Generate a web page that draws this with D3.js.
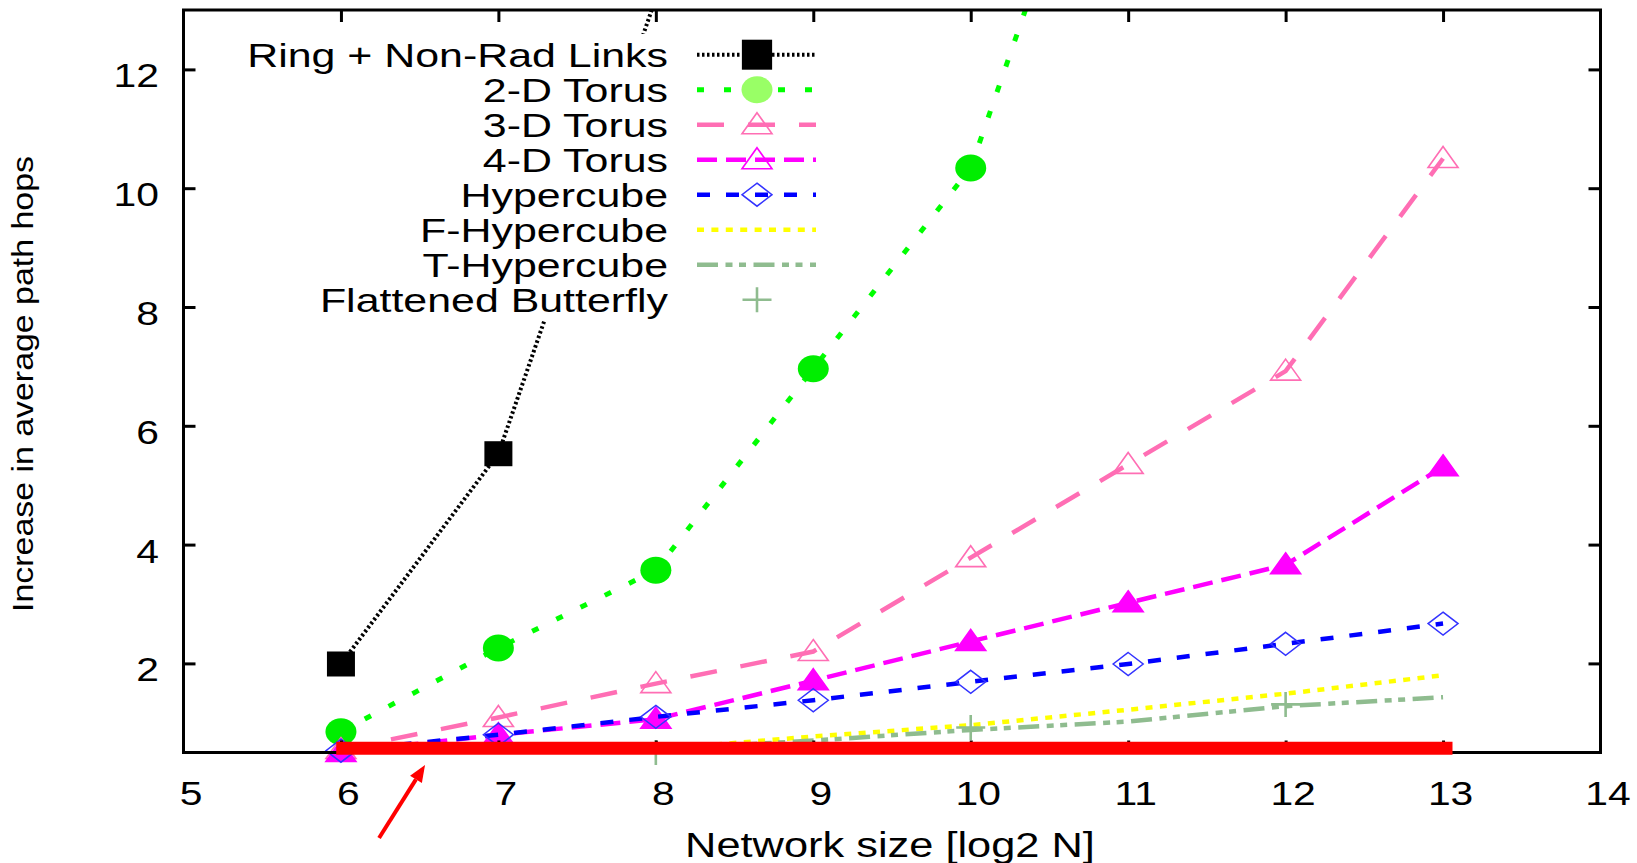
<!DOCTYPE html>
<html>
<head>
<meta charset="utf-8">
<script src="https://cdn.jsdelivr.net/npm/d3@7"></script>
<style>
  html, body { margin: 0; padding: 0; background: #fff; }
  svg { display: block; font-family: "Liberation Sans", Arial, Helvetica, sans-serif; }
</style>
</head>
<body>
<svg id="chart" width="1637" height="863"></svg>
<script>
// Network size (log2 N) at which each topology was measured
const networkSizes = [6, 7, 8, 9, 10, 11, 12, 13];
const ringSizes = [6, 7, 8];
const torus2dSizes = [6, 7, 8, 9, 10, 11];
const butterflySizes = [8, 10, 12];

// Increase in average path hops per topology
const ringHops = [1.99, 5.53, 13.2];
const torus2dHops = [0.85, 2.26, 3.57, 6.96, 10.34, 18.0];
const torus3dHops = [0.55, 1.09, 1.66, 2.2, 3.78, 5.35, 6.92, 10.5];
const torus4dHops = [0.5, 0.8, 1.06, 1.71, 2.37, 3.02, 3.66, 5.31];
const hypercubeHops = [0.53, 0.8, 1.1, 1.38, 1.69, 1.99, 2.33, 2.67];
const fHypercubeHops = [0.5, 0.5, 0.55, 0.77, 0.96, 1.22, 1.49, 1.8];
const tHypercubeHops = [0.5, 0.5, 0.55, 0.7, 0.88, 1.02, 1.28, 1.43];
const butterflyHops = [0.5, 0.92, 1.31];

// Axis ticks
const xTicks = [5, 6, 7, 8, 9, 10, 11, 12, 13, 14];
const yTicks = [2, 4, 6, 8, 10, 12];

// Highlighted baseline and the arrow pointing at it (data units)
const baselineSpan = [5.97, 13.06];
const baselineLevel = 0.57;
const arrowTail = [6.242, -0.94];
const arrowTip = [6.534, 0.29];

const xTitle = "Network size [log2 N]";
const yTitle = "Increase in average path hops";

const pair = (xs, ys) => xs.map((n, i) => ({ n, v: ys[i] }));

const series = [
  { name: "Ring + Non-Rad Links", data: pair(ringSizes, ringHops), color: "#000000",
    width: 4, dash: "2.5,2.5", marker: "square", fill: "#000000", legendFill: "#000000" },
  { name: "2-D Torus", data: pair(torus2dSizes, torus2dHops), color: "#00ff00",
    width: 5, dash: "7,20", marker: "circle", fill: "#00ee00", legendFill: "#99ff66" },
  { name: "3-D Torus", data: pair(networkSizes, torus3dHops), color: "#ff6eb4",
    width: 4.5, dash: "27,24", marker: "triangle", fill: "none", legendFill: "none" },
  { name: "4-D Torus", data: pair(networkSizes, torus4dHops), color: "#ff00ff",
    width: 4.5, dash: "20,9", marker: "triangle", fill: "#ff00ff", legendFill: "none" },
  { name: "Hypercube", data: pair(networkSizes, hypercubeHops), color: "#0000ff",
    width: 4.5, dash: "13,16", marker: "diamond", fill: "none", legendFill: "none", markerStroke: "#3333ff" },
  { name: "F-Hypercube", data: pair(networkSizes, fHypercubeHops), color: "#ffff00",
    width: 4.5, dash: "7,7.4", marker: null },
  { name: "T-Hypercube", data: pair(networkSizes, tHypercubeHops), color: "#8fbc8f",
    width: 4.5, dash: "21,7.5,7,6.5,7,7.5", marker: null },
  { name: "Flattened Butterfly", data: pair(butterflySizes, butterflyHops), color: "#8fbc8f",
    width: 0, dash: null, marker: "plus", fill: "none", legendFill: "none", noLine: true }
];

const svg = d3.select("#chart");
const W = 1637, H = 863;
const plot = { left: 183.5, right: 1600.5, top: 10, bottom: 752.5 };

const x = d3.scaleLinear().domain([5, 14]).range([plot.left, plot.right]);
const y = d3.scaleLinear().domain([0.5, 13]).range([plot.bottom, plot.top]);

svg.append("rect").attr("width", W).attr("height", H).attr("fill", "#fff");

svg.append("defs").append("clipPath").attr("id", "plot-clip")
  .append("rect")
  .attr("x", plot.left).attr("y", plot.top)
  .attr("width", plot.right - plot.left).attr("height", plot.bottom - plot.top);

// Text drawn a little wider than the font's natural width
function wideText(parent, str, tx, ty, size, sx, anchor, rotate) {
  const t = parent.append("text")
    .attr("transform", `translate(${tx},${ty})${rotate ? ` rotate(${rotate})` : ""} scale(${sx},1)`)
    .attr("font-size", size)
    .attr("text-anchor", anchor)
    .attr("fill", "#000")
    .text(str);
  return t;
}

// Marker shapes
function drawMarker(g, type, cx, cy, stroke, fill, big) {
  const k = big ? 1.08 : 1;
  if (type === "square") {
    const w = 28 * k, h = 25 * (big ? 1.2 : 1);
    g.append("rect").attr("x", cx - w / 2).attr("y", cy - h / 2)
      .attr("width", w).attr("height", h).attr("fill", fill);
  } else if (type === "circle") {
    g.append("ellipse").attr("cx", cx).attr("cy", cy)
      .attr("rx", 15.5).attr("ry", 13.5).attr("fill", fill);
  } else if (type === "triangle") {
    const pts = [[cx, cy - 12], [cx + 15, cy + 9], [cx - 15, cy + 9]];
    g.append("polygon").attr("points", pts.map(p => p.join(",")).join(" "))
      .attr("fill", fill).attr("stroke", stroke).attr("stroke-width", 1.6)
      .attr("stroke-linejoin", "miter");
  } else if (type === "diamond") {
    const pts = [[cx, cy - 11.5], [cx + 15, cy], [cx, cy + 11.5], [cx - 15, cy]];
    g.append("polygon").attr("points", pts.map(p => p.join(",")).join(" "))
      .attr("fill", fill).attr("stroke", stroke).attr("stroke-width", 1.5);
  } else if (type === "plus") {
    g.append("path")
      .attr("d", `M${cx - 14.5},${cy}H${cx + 14.5}M${cx},${cy - 12.5}V${cy + 12.5}`)
      .attr("stroke", stroke).attr("stroke-width", 2.6).attr("fill", "none");
  }
}

const line = d3.line().x(d => x(d.n)).y(d => y(d.v));
const [yMin, yMax] = y.domain();

// Series: line first, then its markers
series.forEach(s => {
  const g = svg.append("g");
  if (!s.noLine) {
    g.append("path")
      .datum(s.data)
      .attr("clip-path", "url(#plot-clip)")
      .attr("d", line)
      .attr("fill", "none")
      .attr("stroke", s.color)
      .attr("stroke-width", s.width)
      .attr("stroke-dasharray", s.dash);
  }
  if (s.marker) {
    s.data.filter(d => d.v >= yMin && d.v <= yMax).forEach(d => {
      drawMarker(g, s.marker, x(d.n), y(d.v), s.markerStroke || s.color, s.fill, false);
    });
  }
});

// Axes with inward ticks on all four sides
const tickStyle = g => {
  g.select(".domain").remove();
  g.selectAll(".tick line").attr("stroke", "#000").attr("stroke-width", 3);
};

const xAxis = svg.append("g")
  .attr("transform", `translate(0,${plot.bottom})`)
  .call(d3.axisBottom(x).tickValues(xTicks).tickSizeInner(-12).tickSizeOuter(0).tickPadding(0))
  .call(tickStyle);
xAxis.selectAll(".tick line").filter(d => d === 5 || d === 14).remove();
xAxis.selectAll(".tick text")
  .attr("y", null).attr("dy", null)
  .attr("font-size", 34)
  .attr("font-family", "Liberation Sans, Arial, sans-serif")
  .attr("fill", "#000")
  .attr("transform", "translate(7,52.5) scale(1.2,1)");

svg.append("g")
  .attr("transform", `translate(0,${plot.top})`)
  .call(d3.axisTop(x).tickValues(xTicks.filter(v => v > 5 && v < 14)).tickSizeInner(-12).tickSizeOuter(0).tickFormat(""))
  .call(tickStyle);

const yAxis = svg.append("g")
  .attr("transform", `translate(${plot.left},0)`)
  .call(d3.axisLeft(y).tickValues(yTicks).tickSizeInner(-12).tickSizeOuter(0).tickPadding(0))
  .call(tickStyle);
yAxis.selectAll(".tick text")
  .attr("x", null).attr("dy", null)
  .attr("font-size", 34)
  .attr("font-family", "Liberation Sans, Arial, sans-serif")
  .attr("fill", "#000")
  .attr("text-anchor", "end")
  .attr("transform", `translate(${159 - plot.left},17.5) scale(1.2,1)`);

svg.append("g")
  .attr("transform", `translate(${plot.right},0)`)
  .call(d3.axisRight(y).tickValues(yTicks).tickSizeInner(-12).tickSizeOuter(0).tickFormat(""))
  .call(tickStyle);

svg.append("rect")
  .attr("x", plot.left).attr("y", plot.top)
  .attr("width", plot.right - plot.left).attr("height", plot.bottom - plot.top)
  .attr("fill", "none").attr("stroke", "#000").attr("stroke-width", 3);

// Axis titles
wideText(svg, xTitle, 890, 856.5, 35, 1.24, "middle");
wideText(svg, yTitle, 33.3, 384, 30, 1.13, "middle", -90);

// Key: opaque box with right-aligned labels and line samples
const key = svg.append("g");
key.append("rect").attr("x", 232).attr("y", 34).attr("width", 598).attr("height", 286).attr("fill", "#fff");
const sample = { x0: 697, x1: 816, mid: 757 };
series.forEach((s, i) => {
  const cy = 54.7 + 35 * i;
  wideText(key, s.name, 668, cy + 12, 33, 1.3, "end");
  if (!s.noLine) {
    key.append("path")
      .attr("d", `M${sample.x0},${cy}H${sample.x1}`)
      .attr("stroke", s.color).attr("stroke-width", s.width)
      .attr("stroke-dasharray", s.dash).attr("fill", "none");
  }
  if (s.marker) {
    drawMarker(key, s.marker, sample.mid, cy, s.markerStroke || s.color, s.legendFill, true);
  }
});

// Highlighted baseline with an arrow
svg.append("line")
  .attr("x1", x(baselineSpan[0])).attr("x2", x(baselineSpan[1]))
  .attr("y1", y(baselineLevel)).attr("y2", y(baselineLevel))
  .attr("stroke", "#ff0000").attr("stroke-width", 13);

const ax0 = x(arrowTail[0]), ay0 = y(arrowTail[1]);
const ax1 = x(arrowTip[0]), ay1 = y(arrowTip[1]);
const ang = Math.atan2(ay1 - ay0, ax1 - ax0);
const headLen = 17, headHalf = 7;
const bx = ax1 - headLen * Math.cos(ang), by = ay1 - headLen * Math.sin(ang);
svg.append("line")
  .attr("x1", ax0).attr("y1", ay0).attr("x2", bx).attr("y2", by)
  .attr("stroke", "#ff0000").attr("stroke-width", 4);
svg.append("polygon")
  .attr("points", [
    [ax1, ay1],
    [bx + headHalf * Math.sin(ang), by - headHalf * Math.cos(ang)],
    [bx - headHalf * Math.sin(ang), by + headHalf * Math.cos(ang)]
  ].map(p => p.join(",")).join(" "))
  .attr("fill", "#ff0000");
</script>
</body>
</html>
